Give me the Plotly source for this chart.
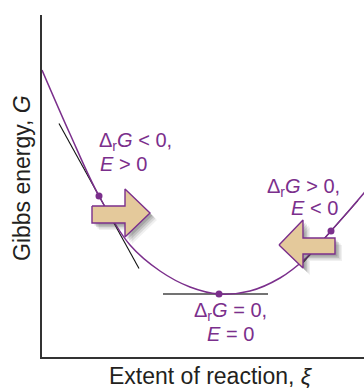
import plotly.graph_objects as go

# Curve G(xi) (arbitrary units)
xi = [0, 28, 57, 88, 118, 148, 177, 208, 238, 263, 289, 322, 335]
G = [287, 223, 161, 112, 86, 70, 63, 66, 79, 98, 126, 164, 180]

# Points where tangents are drawn
pt_xi = [57, 177, 289]
pt_G = [161, 63, 126]
tan_slope = [-1.81, 0.0, 1.13]
tan_from = [17, 121, 261]
tan_to = [97, 226, 316]
tan_color = ["#111111", "#444444", "#111111"]
tan_width = [1.1, 1.6, 1.1]

# Labels
label_line1 = ["Δ<sub>r</sub><i>G</i> &lt; 0,", "Δ<sub>r</sub><i>G</i> &gt; 0,", "Δ<sub>r</sub><i>G</i> = 0,"]
label_line2 = ["<i>E</i> &gt; 0", "<i>E</i> &lt; 0", "<i>E</i> = 0"]

# Arrow shapes (direction markers)
arrow_right = [(50, 151), (83, 151), (83, 168), (108, 144), (83, 120), (83, 134), (50, 134)]
arrow_left = [(237, 112), (261, 137), (261, 119), (293, 119), (293, 103), (261, 103), (261, 89)]

PURPLE = "#7B2F8C"
TAN = "#E4C99B"
XR = [0, 322]
YR = [0, 342]

fig = go.Figure()

# tangents
for x0, x1, s, px, py, c, w in zip(tan_from, tan_to, tan_slope, pt_xi, pt_G, tan_color, tan_width):
    fig.add_trace(go.Scatter(x=[x0, x1], y=[py + s * (x0 - px), py + s * (x1 - px)],
                             mode="lines", line=dict(color=c, width=w), hoverinfo="skip"))

# curve
fig.add_trace(go.Scatter(x=xi, y=G, mode="lines", line=dict(color=PURPLE, width=1.5, shape="spline", smoothing=1.0),
                         hoverinfo="skip"))
# points
fig.add_trace(go.Scatter(x=pt_xi, y=pt_G, mode="markers", marker=dict(color=PURPLE, size=7), hoverinfo="skip"))

# arrows with soft shadow
for arrow in (arrow_right, arrow_left):
    ax = [p[0] for p in arrow] + [arrow[0][0]]
    ay = [p[1] for p in arrow] + [arrow[0][1]]
    for off, op in [(7, 0.08), (5.5, 0.12), (4, 0.16), (2.5, 0.2)]:
        fig.add_trace(go.Scatter(x=[v + off for v in ax], y=[v - off for v in ay], mode="lines", fill="toself",
                                 fillcolor=f"rgba(60,60,60,{op})", line=dict(width=0), hoverinfo="skip"))
    fig.add_trace(go.Scatter(x=ax, y=ay, mode="lines", fill="toself", fillcolor=TAN,
                             line=dict(color=PURPLE, width=1.4), hoverinfo="skip"))

fs = 20
tf = dict(family="Liberation Sans, Arial, sans-serif", size=fs, color=PURPLE)
ann = []
# left label
ann.append(dict(x=55, y=216, text=label_line1[0], xanchor="left", yanchor="middle"))
ann.append(dict(x=56, y=193, text=label_line2[0], xanchor="left", yanchor="middle"))
# right label
ann.append(dict(x=300, y=170, text=label_line1[1], xanchor="right", yanchor="middle"))
ann.append(dict(x=298, y=149, text=label_line2[1], xanchor="right", yanchor="middle"))
# bottom label
ann.append(dict(x=188, y=46, text=label_line1[2], xanchor="center", yanchor="middle"))
ann.append(dict(x=188, y=23, text=label_line2[2], xanchor="center", yanchor="middle"))
for a in ann:
    a.update(xref="x", yref="y", showarrow=False, font=tf)

# axis titles
ann.append(dict(xref="paper", yref="paper", x=-20 / 322, y=179 / 342, text="Gibbs energy, <i>G</i>",
                textangle=-90, showarrow=False, xanchor="center", yanchor="middle",
                font=dict(family="Liberation Sans, Arial, sans-serif", size=23, color="#231F20")))
ann.append(dict(xref="paper", yref="paper", x=169 / 322, y=-19 / 342, text="Extent of reaction, <i>ξ</i>",
                showarrow=False, xanchor="center", yanchor="middle",
                font=dict(family="Liberation Sans, Arial, sans-serif", size=23, color="#231F20")))

fig.update_layout(
    width=364, height=388,
    margin=dict(l=42, r=0, t=15, b=31),
    paper_bgcolor="white", plot_bgcolor="white",
    showlegend=False,
    annotations=ann,
    xaxis=dict(range=XR, showgrid=False, zeroline=False, showticklabels=False, ticks="",
               showline=True, linecolor="#333333", linewidth=1.5, fixedrange=True),
    yaxis=dict(range=YR, showgrid=False, zeroline=False, showticklabels=False, ticks="",
               showline=True, linecolor="#333333", linewidth=1.5, fixedrange=True),
)

fig.write_html("out.html", config={"displayModeBar": False},
               post_script="document.body.style.margin='0';document.body.style.overflow='hidden';")
